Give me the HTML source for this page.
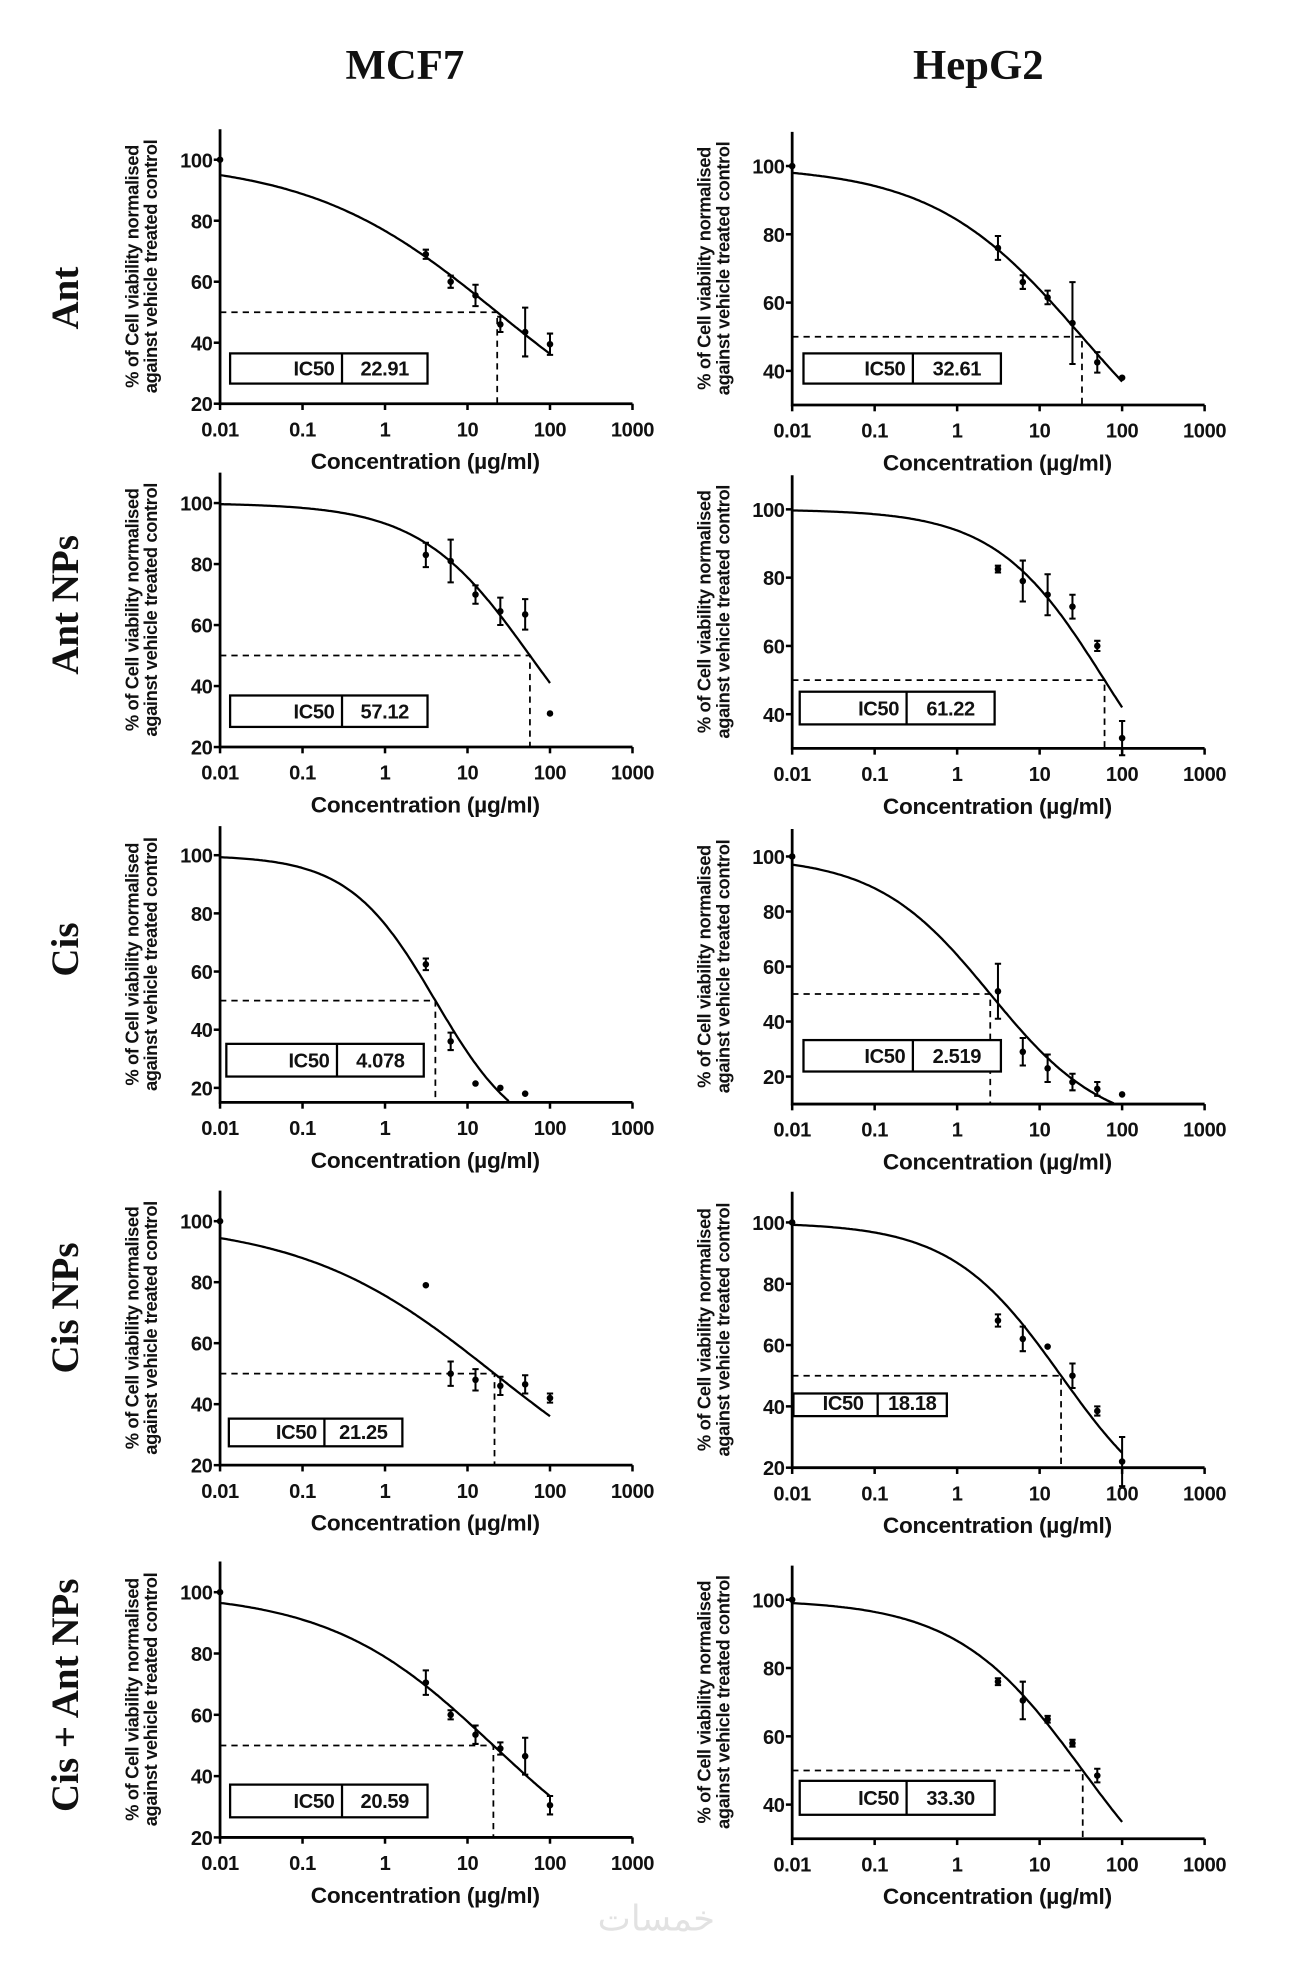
<!DOCTYPE html>
<html><head><meta charset="utf-8">
<style>
html,body{margin:0;padding:0;background:#fff;}
svg{display:block;}
.tick{font-family:"Liberation Sans",sans-serif;font-weight:bold;font-size:16px;fill:#111;letter-spacing:-0.3px;}
.xt{font-family:"Liberation Sans",sans-serif;font-weight:bold;font-size:18px;fill:#111;letter-spacing:-0.2px;}
.yt{font-family:"Liberation Sans",sans-serif;font-weight:bold;font-size:14.6px;fill:#111;letter-spacing:-0.3px;}
.row{font-family:"Liberation Serif",serif;font-weight:bold;font-size:31px;fill:#111;}
.col{font-family:"Liberation Serif",serif;font-weight:bold;font-size:34px;fill:#111;}
.box{font-family:"Liberation Sans",sans-serif;font-weight:bold;font-size:16px;fill:#111;letter-spacing:-0.3px;}
</style></head>
<body>
<svg id="fig" width="1314" height="1972" viewBox="0 0 1045 1568" preserveAspectRatio="none" xmlns="http://www.w3.org/2000/svg">
<text class="col" x="322" y="63" text-anchor="middle">MCF7</text>
<text class="col" x="778" y="63" text-anchor="middle">HepG2</text>
<text class="row" transform="translate(62,237) rotate(-90)" text-anchor="middle">Ant</text>
<text class="row" transform="translate(62,481) rotate(-90)" text-anchor="middle">Ant NPs</text>
<text class="row" transform="translate(62,755) rotate(-90)" text-anchor="middle">Cis</text>
<text class="row" transform="translate(62,1040) rotate(-90)" text-anchor="middle">Cis NPs</text>
<text class="row" transform="translate(62,1348) rotate(-90)" text-anchor="middle">Cis + Ant NPs</text>
<text x="522" y="1535" text-anchor="middle" font-family="DejaVu Sans, sans-serif" font-size="28" fill="#e2e2e2">خمسات</text>
<g id="panels"></g>
</svg>
<script>
// ---- data (concentration µg/ml, % viability, SEM) ----
const conc = [0.01, 3.125, 6.25, 12.5, 25, 50, 100];
const concR5 = [0.01, 3.125, 6.25, 12.5, 25, 50];
const concL2 = [3.125, 6.25, 12.5, 25, 50, 100];
const concL3 = [3.125, 6.25, 12.5, 25, 50];

const viabL1 = [100, 69, 60, 55.5, 46, 43.5, 39.5];
const errL1  = [0, 1.5, 2, 3.5, 2.5, 8, 3.5];
const viabR1 = [100, 76, 66, 61.5, 54, 42.5, 38];
const errR1  = [0, 3.5, 2, 2, 12, 3, 0];
const viabL2 = [83, 81, 70, 64.5, 63.5, 31];
const errL2  = [4, 7, 3, 4.5, 5, 0];
const viabR2 = [82.5, 79, 75, 71.5, 60, 33];
const errR2  = [1, 6, 6, 3.5, 1.5, 5];
const viabL3 = [62.5, 36, 21.5, 20, 18];
const errL3  = [2, 3, 0, 0, 0];
const viabR3 = [100, 51, 29, 23, 18, 15.5, 13.5];
const errR3  = [0, 10, 5, 5, 3, 2.5, 0];
const viabL4 = [100, 79, 50, 48, 46, 46.5, 42];
const errL4  = [0, 0, 4, 3.5, 3, 3, 1.5];
const viabR4 = [100, 68, 62, 59.5, 50, 38.5, 22];
const errR4  = [0, 2, 4, 0, 4, 1.5, 8];
const viabL5 = [100, 70.5, 60, 53.5, 49, 46.5, 30.5];
const errL5  = [0, 4, 1.5, 3, 2, 6, 3];
const viabR5 = [100, 76, 70.5, 65, 58, 48.5];
const errR5  = [0, 1, 5.5, 1, 1, 2];

const ic50 = [22.91, 32.61, 57.12, 61.22, 4.078, 2.519, 21.25, 18.18, 20.59, 33.30];
const ic50Labels = ["22.91", "32.61", "57.12", "61.22", "4.078", "2.519", "21.25", "18.18", "20.59", "33.30"];
const hill = [0.38, 0.48, 0.65, 0.66, 0.83, 0.63, 0.37, 0.65, 0.435, 0.567];
const curveEnd = [100, 100, 100, 100, 100, 100, 100, 100, 100, 100];
const xTickLabels = ["0.01", "0.1", "1", "10", "100", "1000"];
const xTickVals = [0.01, 0.1, 1, 10, 100, 1000];

const panels = [
 {id:"mcf7-ant", ox:175, p100:127, per20:48.5, ymin:20, yt:[20,40,60,80,100], c:conc, v:viabL1, e:errL1, k:0, box:[183,281,340,305,272], bs:16},
 {id:"hepg2-ant", ox:630, p100:132, per20:54.3, ymin:30, yt:[40,60,80,100], c:conc, v:viabR1, e:errR1, k:1, box:[639,281,796,305,726], bs:16},
 {id:"mcf7-ant-nps", ox:175, p100:400, per20:48.5, ymin:20, yt:[20,40,60,80,100], c:concL2, v:viabL2, e:errL2, k:2, box:[183,553,340,578,272], bs:16},
 {id:"hepg2-ant-nps", ox:630, p100:405, per20:54.3, ymin:30, yt:[40,60,80,100], c:concL2, v:viabR2, e:errR2, k:3, box:[636,550,791,576,721], bs:16},
 {id:"mcf7-cis", ox:175, p100:680, per20:46.25, ymin:15, yt:[20,40,60,80,100], c:concL3, v:viabL3, e:errL3, k:4, box:[180,830,337,856,268], bs:16},
 {id:"hepg2-cis", ox:630, p100:681, per20:43.75, ymin:10, yt:[20,40,60,80,100], c:conc, v:viabR3, e:errR3, k:5, box:[639,827,796,852,726], bs:16},
 {id:"mcf7-cis-nps", ox:175, p100:971, per20:48.5, ymin:20, yt:[20,40,60,80,100], c:conc, v:viabL4, e:errL4, k:6, box:[182,1128,320,1150,258], bs:14.5},
 {id:"hepg2-cis-nps", ox:630, p100:972, per20:48.75, ymin:20, yt:[20,40,60,80,100], c:conc, v:viabR4, e:errR4, k:7, box:[631,1108,753,1126,698], bs:11, center:true},
 {id:"mcf7-cis-ant-nps", ox:175, p100:1266, per20:48.75, ymin:20, yt:[20,40,60,80,100], c:conc, v:viabL5, e:errL5, k:8, box:[183,1419,340,1445,272], bs:16},
 {id:"hepg2-cis-ant-nps", ox:630, p100:1272, per20:54.3, ymin:30, yt:[40,60,80,100], c:concR5, v:viabR5, e:errR5, k:9, box:[636,1416,791,1443,721], bs:16}
];

const NS = "http://www.w3.org/2000/svg";
const root = document.getElementById("panels");
const DEC = 65.6;
function mk(tag, attrs, parent, txt) {
  const el = document.createElementNS(NS, tag);
  for (const a in attrs) el.setAttribute(a, attrs[a]);
  if (txt !== undefined) el.textContent = txt;
  parent.appendChild(el);
  return el;
}
panels.forEach(p => {
  const X = c => p.ox + (Math.log10(c) + 2) * DEC;
  const Y = v => p.p100 + (100 - v) / 20 * p.per20;
  const yBot = Y(p.ymin), yTop = Y(110);
  const g = mk("g", {}, root);
  
  
  const ax = mk("path", {d:`M${p.ox} ${yTop} V${yBot} H${X(1000)}`, fill:"none", stroke:"#000", "stroke-width":2.2}, g);
  
  
  xTickVals.forEach((t, i) => {
    const tk = mk("line", {x1:X(t), x2:X(t), y1:yBot, y2:yBot+5, stroke:"#000", "stroke-width":2}, g);
    
    
    const tl = mk("text", {x:X(t), y:yBot+26, "text-anchor":"middle", class:"tick"}, g, xTickLabels[i]);
    
    
  });
  p.yt.forEach(t => {
    const tk = mk("line", {x1:p.ox-5, x2:p.ox, y1:Y(t), y2:Y(t), stroke:"#000", "stroke-width":2}, g);
    
    
    const tl = mk("text", {x:p.ox-6, y:Y(t)+6, "text-anchor":"end", class:"tick"}, g, String(t));
    
    
  });
  const xt = mk("text", {x:X(1)+32, y:yBot+52, "text-anchor":"middle", class:"xt"}, g, "Concentration (µg/ml)");
  
  
  const cy = (yTop + yBot) / 2;
  const yt1 = mk("text", {transform:`translate(${p.ox-65},${cy}) rotate(-90)`, "text-anchor":"middle", class:"yt"}, g, "% of Cell viability normalised");
  
  
  const yt2 = mk("text", {transform:`translate(${p.ox-50},${cy}) rotate(-90)`, "text-anchor":"middle", class:"yt"}, g, "against vehicle treated control");
  
  
  const ic = ic50[p.k], h = hill[p.k];
  const f = c => 100 / (1 + Math.pow(c / ic, h));
  let d = "";
  for (let i = 0; i <= 200; i++) {
    const lc = -2 + i / 200 * (Math.log10(curveEnd[p.k]) + 2);
    const c = Math.pow(10, lc), v = f(c);
    if (v < p.ymin) break;
    d += (d ? "L" : "M") + X(c).toFixed(1) + " " + Y(v).toFixed(1);
  }
  const cv = mk("path", {d, fill:"none", stroke:"#000", "stroke-width":1.8}, g);
  
  
  const dl = mk("path", {d:`M${p.ox} ${Y(50)} H${X(ic)} V${yBot}`, fill:"none", stroke:"#000", "stroke-width":1.4, "stroke-dasharray":"5 4"}, g);
  
  
  p.c.forEach((c, i) => {
    const x = X(c), y = Y(p.v[i]), e = p.e[i];
    if (e > 0) {
      const eb = mk("path", {d:`M${x} ${Y(p.v[i]+e)} V${Y(p.v[i]-e)} M${x-2.5} ${Y(p.v[i]+e)} H${x+2.5} M${x-2.5} ${Y(p.v[i]-e)} H${x+2.5}`, stroke:"#000", "stroke-width":1.6, fill:"none"}, g);
      
      
    }
    const pt = mk("circle", {cx:x, cy:y, r:2.6, fill:"#000"}, g);
    
    
  });
  const b = p.box;
  const bx = mk("g", {}, g);
  
  
  mk("rect", {x:b[0], y:b[1], width:b[2]-b[0], height:b[3]-b[1], fill:"#fff", stroke:"#000", "stroke-width":1.8}, bx);
  mk("line", {x1:b[4], x2:b[4], y1:b[1], y2:b[3], stroke:"#000", "stroke-width":1.8}, bx);
  const my = (b[1] + b[3]) / 2 + p.bs * 0.36;
  if (p.center) {
    mk("text", {x:(b[0]+b[4])/2+6, y:my, "text-anchor":"middle", class:"box", "font-size":p.bs}, bx, "IC50");
  } else {
    mk("text", {x:b[4]-6, y:my, "text-anchor":"end", class:"box", "font-size":p.bs}, bx, "IC50");
  }
  mk("text", {x:(b[4]+b[2])/2, y:my, "text-anchor":"middle", class:"box", "font-size":p.bs}, bx, ic50Labels[p.k]);
});
</script>
</body></html>
